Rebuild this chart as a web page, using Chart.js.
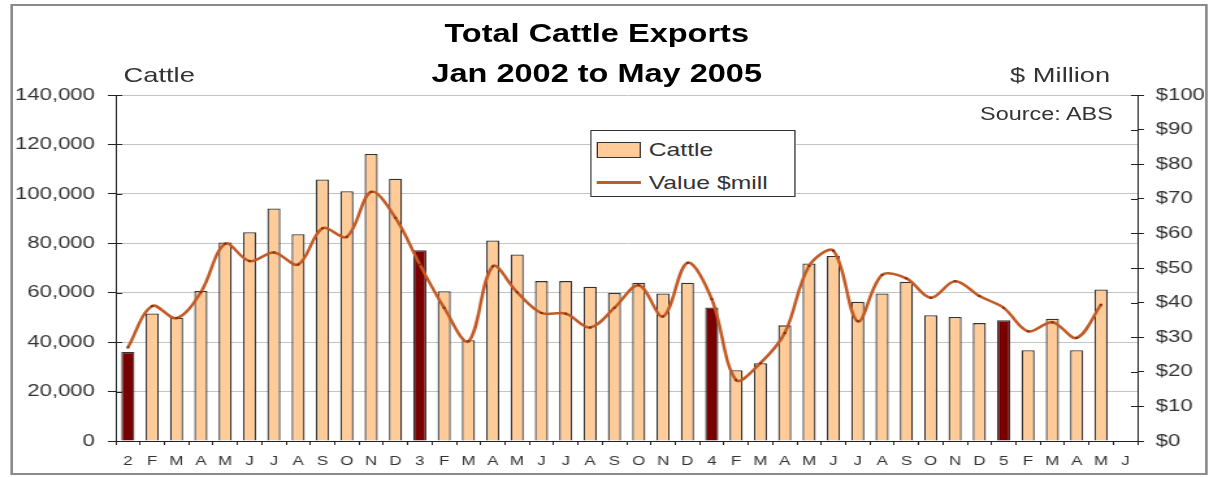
<!DOCTYPE html>
<html>
<head>
<meta charset="utf-8">
<title>Total Cattle Exports</title>
<script src="https://cdn.jsdelivr.net/npm/chart.js@4.4.1/dist/chart.umd.min.js"></script>
<style>
  html, body { margin: 0; padding: 0; background: #fff; overflow: hidden; }
  /* the chart is laid out on a narrow page and stretched sideways to full width */
  #wrap {
    position: absolute; left: 0; top: 0;
    width: 933px; height: 477px;
    transform: scaleX(1.3); transform-origin: 0 0;
    font-family: "Liberation Sans", Arial, sans-serif;
    color: #333;
  }
  #frame {
    position: absolute; left: 8px; top: 4px; width: 921px; height: 471px;
    border: 2px solid #8a8a8a; box-sizing: border-box;
  }
  #chart { position: absolute; left: 0; top: 0; }
  .title {
    position: absolute; left: 0; width: 918px; text-align: center;
    font-size: 25px; font-weight: bold; line-height: 30px; color: #000;
  }
  .axis-name { position: absolute; font-size: 21px; line-height: 24px; }
  #source { position: absolute; right: 77px; top: 104px; font-size: 18px; line-height: 20px; }
  #legend {
    position: absolute; left: 454px; top: 130px; width: 158px; height: 67px;
    border: 1.5px solid #333; box-sizing: border-box; background: #fff;
  }
  .leg-item { position: absolute; left: 4px; font-size: 19px; line-height: 22px; }
  .leg-item span { position: absolute; left: 40px; top: 0; white-space: nowrap; }
  .swatch-bar {
    position: absolute; left: 0; top: 3px; width: 34px; height: 16px;
    border: 1px solid #333; box-sizing: border-box;
  }
  .swatch-line { position: absolute; left: 0; top: 9.5px; width: 34px; height: 3px; }
</style>
</head>
<body>
<div id="wrap">
  <div id="frame"></div>
  <canvas id="chart" width="933" height="477"></canvas>
  <div class="title" style="top:18px">Total Cattle Exports</div>
  <div class="title" style="top:58px">Jan 2002 to May 2005</div>
  <div class="axis-name" style="left:95px; top:63px">Cattle</div>
  <div class="axis-name" style="right:79px; top:63px">$ Million</div>
  <div id="source">Source: ABS</div>
  <div id="legend"></div>
</div>

<script>
// Monthly labels: year digit marks each January
const months = [
    '2', 'F', 'M', 'A', 'M', 'J', 'J', 'A', 'S', 'O', 'N', 'D',
    '3', 'F', 'M', 'A', 'M', 'J', 'J', 'A', 'S', 'O', 'N', 'D',
    '4', 'F', 'M', 'A', 'M', 'J', 'J', 'A', 'S', 'O', 'N', 'D',
    '5', 'F', 'M', 'A', 'M', 'J'
];

// Head of cattle exported per month
const cattle = [
    36000, 51600, 49900, 60700, 80300, 84500, 94100, 83700, 105800, 101100, 116100, 106100,
    77200, 60600, 40800, 81100, 75500, 64700, 64700, 62400, 59900, 64000, 59700, 64000,
    54000, 28600, 31500, 46800, 71800, 74900, 56300, 59700, 64400, 50900, 50200, 47700,
    48900, 36700, 49500, 36700, 61300
];

// Export value, $ million
const valueMill = [
    27, 39, 35.5, 43, 57, 52, 54.5, 51, 61.5, 59, 72, 64.5,
    51, 38.5, 28.8, 50.5, 43, 37, 36.8, 32.8, 38.5, 45, 36, 51.5,
    41, 17.6, 22.5, 31.2, 50.6, 55, 34.6, 48, 47, 41.4, 46.2, 41.9,
    38.5, 31.7, 34.3, 29.8, 39.4
];

const cattleTicks = [0, 20000, 40000, 60000, 80000, 100000, 120000, 140000];
const dollarTicks = [0, 10, 20, 30, 40, 50, 60, 70, 80, 90, 100];

const PEACH = '#ffcc99';
const MAROON = '#7a0000';
const LINE = '#c25a25';
const INK = '#222';
const FONT = '"Liberation Sans", Arial, sans-serif';

// Januaries are highlighted in dark red
const barColors = months.slice(0, cattle.length).map(m => /\d/.test(m) ? MAROON : PEACH);

// Short tick marks on the inner side of both value axes
const innerTicks = {
    id: 'innerTicks',
    beforeDatasetsDraw(chart) {
        const { ctx, chartArea, scales } = chart;
        ctx.save();
        ctx.strokeStyle = INK;
        ctx.lineWidth = 1;
        ctx.beginPath();
        scales.y.ticks.forEach(t => {
            const py = Math.round(scales.y.getPixelForValue(t.value)) + 0.5;
            ctx.moveTo(chartArea.left, py);
            ctx.lineTo(chartArea.left + 5, py);
        });
        scales.y1.ticks.forEach(t => {
            const py = Math.round(scales.y1.getPixelForValue(t.value)) + 0.5;
            ctx.moveTo(chartArea.right - 5, py);
            ctx.lineTo(chartArea.right, py);
        });
        ctx.stroke();
        ctx.restore();
    }
};

const chart = new Chart(document.getElementById('chart'), {
    data: {
        labels: months,
        datasets: [
            {
                type: 'line',
                label: 'Value $mill',
                data: valueMill,
                yAxisID: 'y1',
                order: 0,
                borderColor: LINE,
                borderWidth: 2.5,
                tension: 0.35,
                pointStyle: 'rect',
                pointRadius: 1.4,
                pointBorderWidth: 0,
                pointBackgroundColor: '#7a2e0a'
            },
            {
                type: 'bar',
                label: 'Cattle',
                data: cattle,
                yAxisID: 'y',
                order: 1,
                backgroundColor: barColors,
                borderColor: '#333',
                borderWidth: 1.3,
                barPercentage: 0.54,
                categoryPercentage: 1
            }
        ]
    },
    options: {
        responsive: false,
        animation: false,
        devicePixelRatio: 1,
        events: [],
        layout: { padding: { top: 95, left: 0, right: 0, bottom: 0 } },
        plugins: {
            legend: { display: false },
            title: { display: false },
            tooltip: { enabled: false }
        },
        scales: {
            x: {
                type: 'category',
                offset: true,
                grid: { display: true, offset: true, drawOnChartArea: false, tickLength: 4, tickColor: INK },
                border: { display: true, color: INK, width: 1 },
                ticks: {
                    autoSkip: false, maxRotation: 0, padding: 9,
                    color: '#333', font: { family: FONT, size: 13 }
                },
                afterFit(scale) { scale.height = 36; }
            },
            y: {
                position: 'left',
                min: 0, max: 140000,
                afterBuildTicks(scale) { scale.ticks = cattleTicks.map(v => ({ value: v })); },
                grid: { color: '#c4c4c4', lineWidth: 1, tickLength: 6, tickColor: INK },
                border: { display: true, color: INK, width: 1 },
                ticks: {
                    padding: 10, color: '#333', font: { family: FONT, size: 17 },
                    callback: v => v.toLocaleString('en-US')
                },
                afterFit(scale) { scale.width = 89; }
            },
            y1: {
                position: 'right',
                min: 0, max: 100,
                afterBuildTicks(scale) { scale.ticks = dollarTicks.map(v => ({ value: v })); },
                grid: { drawOnChartArea: false, tickLength: 5, tickColor: INK },
                border: { display: true, color: INK, width: 1 },
                ticks: {
                    padding: 9, color: '#333', font: { family: FONT, size: 17 },
                    callback: v => '$' + v
                },
                afterFit(scale) { scale.width = 58; }
            }
        }
    },
    plugins: [innerTicks]
});

// Legend box built from the chart's own datasets, bars listed first
const legend = document.getElementById('legend');
['Cattle', 'Value $mill'].forEach((name, i) => {
    const ds = chart.data.datasets.find(d => d.label === name);
    const item = document.createElement('div');
    item.className = 'leg-item';
    item.style.top = (8 + i * 32.5) + 'px';
    const sw = document.createElement('div');
    if (ds.type === 'bar') {
        sw.className = 'swatch-bar';
        sw.style.background = PEACH;
    } else {
        sw.className = 'swatch-line';
        sw.style.background = ds.borderColor;
    }
    const text = document.createElement('span');
    text.textContent = ds.label;
    item.appendChild(sw);
    item.appendChild(text);
    legend.appendChild(item);
});
</script>
</body>
</html>
